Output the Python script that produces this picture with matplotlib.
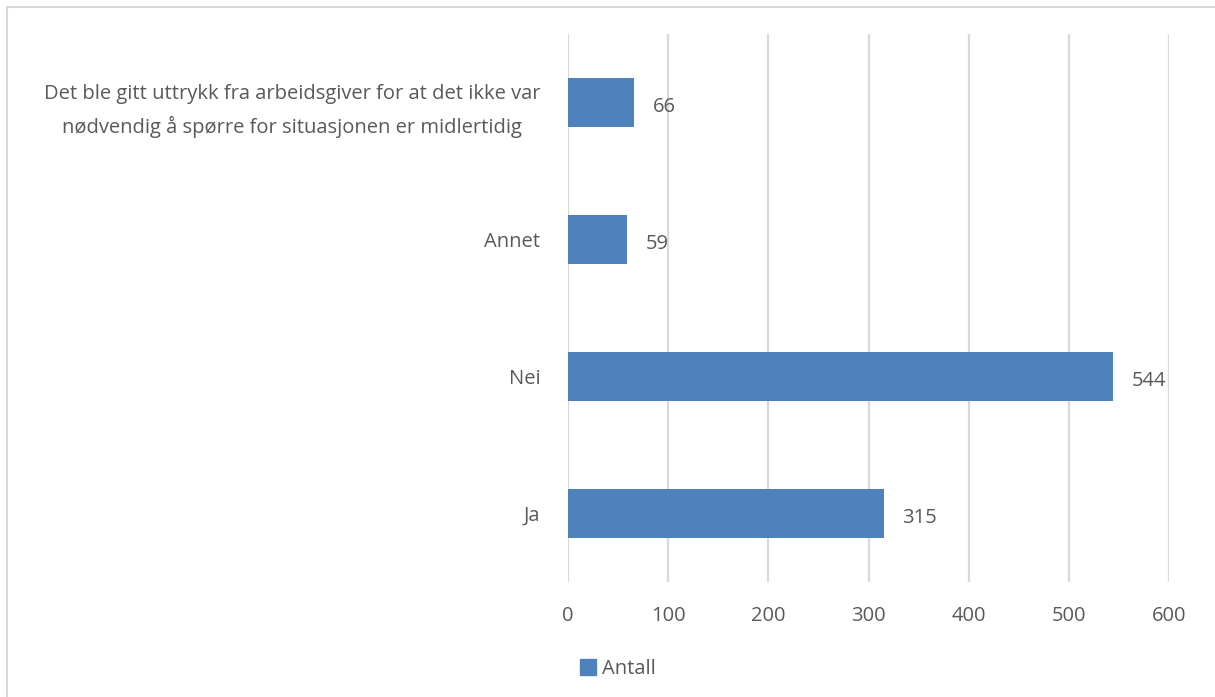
import matplotlib.pyplot as plt
import matplotlib.patches as mpatches

categories = ['Ja', 'Nei', 'Annet',
              'Det ble gitt uttrykk fra arbeidsgiver for at det ikke var\nnødvendig å spørre for situasjonen er midlertidig']
values = [315, 544, 59, 66]
series_name = 'Antall'

plt.rcParams['font.family'] = ['Open Sans', 'DejaVu Sans']
textcol = '#595959'
barcol = '#4F81BD'

fig = plt.figure(figsize=(12.15, 6.97), dpi=100)
ax = fig.add_axes([568 / 1215, 1 - 582 / 697, (1169 - 568) / 1215, (582 - 34) / 697])

bars = ax.barh(range(len(categories)), values, height=0.36, color=barcol, label=series_name, zorder=2)
for b, v in zip(bars, values):
    ax.text(v + 19, b.get_y() + b.get_height() / 2 - 0.035, str(v), va='center', ha='left',
            fontsize=14.5, color=textcol)

ax.set_xlim(0, 600)
ax.set_ylim(-0.5, 3.5)
ax.set_xticks(range(0, 601, 100))
ax.set_yticks(range(len(categories)))
ax.set_yticklabels(categories, fontsize=14.5, color=textcol, ha='right', multialignment='center',
                   linespacing=1.7)
ax.tick_params(axis='x', labelsize=14.5, labelcolor=textcol, length=0, pad=17)
ax.tick_params(axis='y', length=0, pad=20)
ax.grid(axis='x', color='#D9D9D9', linewidth=1.6, zorder=0)
for s in ax.spines.values():
    s.set_visible(False)

handle = mpatches.Patch(color=barcol, label=series_name)
fig.legend(handles=[handle], loc='center', bbox_to_anchor=(618 / 1215, 1 - 669 / 697), frameon=False,
           fontsize=14.5, labelcolor=textcol, handlelength=0.8, handleheight=0.8, handletextpad=0.3)

border = mpatches.Rectangle((7 / 1215, -0.05), 1.2, 1 - 7 / 697 + 0.05, transform=fig.transFigure,
                            fill=False, edgecolor='#D9D9D9', linewidth=1.5)
fig.patches.append(border)

fig.savefig('out.png', dpi=100)
